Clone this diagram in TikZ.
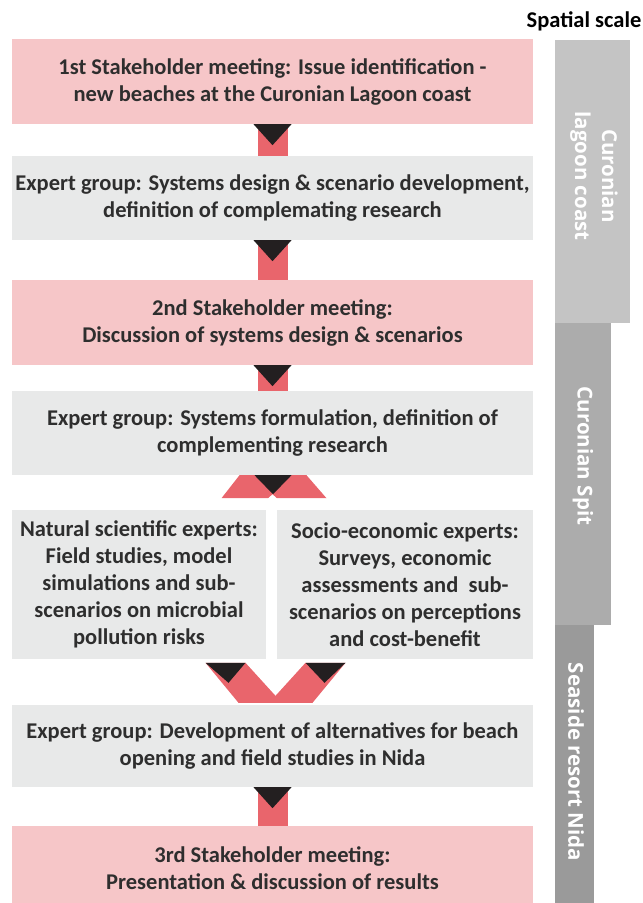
\documentclass[tikz,border=0pt]{standalone}
\usepackage{fontspec}
\setmainfont{Carlito}
\newfontfamily\barfont{Open Sans}
\usepackage{tikz}
\tikzset{>=latex}
\usetikzlibrary{calc}
\definecolor{meetpink}{HTML}{F6C6C8}
\definecolor{expertgrey}{HTML}{E8E9E9}
\definecolor{linkred}{HTML}{E9656C}
\definecolor{tipblack}{HTML}{231F20}
\definecolor{textgrey}{HTML}{2E2E2E}
\definecolor{barone}{HTML}{C4C4C4}
\definecolor{bartwo}{HTML}{ACACAC}
\definecolor{barthree}{HTML}{9A9A9A}
\tikzset{
  flowbox/.style={inner sep=0pt, align=center, text=textgrey,
    font=\bfseries\fontsize{22.5}{27}\selectfont},
  meetbox/.style={flowbox, fill=meetpink, minimum width=521, minimum height=85},
  expertbox/.style={flowbox, fill=expertgrey, minimum width=521, minimum height=84},
  halfbox/.style={flowbox, fill=expertgrey, minimum height=149},
  scalelabel/.style={rotate=-90, align=center, text=white,
    font=\barfont\bfseries\fontsize{20.5}{27}\selectfont}
}

\begin{document}
\begin{tikzpicture}[line cap=round,line join=round,x=1pt,y=-1pt]
		\useasboundingbox (0,0) rectangle (643,903);
		% spatial scale bars
		\fill [barone] (555,40) rectangle (630,323);
		\fill [bartwo] (555,323) rectangle (611,625);
		\fill [barthree] (555,625) rectangle (594,903);
		\node [font=\bfseries\fontsize{22.5}{26}\selectfont, text=black] (scale) at (584,21) {Spatial scale};
		\node [scalelabel] (coast) at (594,176) {Curonian\\lagoon coast};
		\node [scalelabel] (spit) at (583,456) {Curonian Spit};
		\node [scalelabel] (nida) at (576,762) {Seaside resort Nida};
		% process steps
		\node [meetbox] (b1) at (272.5,81.5) {1st Stakeholder meeting: Issue identification -\\new beaches at the Curonian Lagoon coast};
		\node [expertbox] (b2) at (272.5,198) {Expert group: Systems design \& scenario development,\\definition of complemating research};
		\node [meetbox] (b3) at (272.5,322.5) {2nd Stakeholder meeting:\\Discussion of systems design \& scenarios};
		\node [expertbox] (b4) at (272.5,433) {Expert group: Systems formulation, definition of\\complementing research};
		\node [halfbox, minimum width=254] (b5l) at (139,584.5) {Natural scientific experts:\\Field studies, model\\simulations and sub-\\scenarios on microbial\\pollution risks};
		\node [halfbox, minimum width=256] (b5r) at (405,584.5) {Socio-economic experts:\\Surveys, economic\\assessments and~ sub-\\scenarios on perceptions\\and cost-benefit};
		\node [expertbox, minimum height=82] (b6) at (272.5,746) {Expert group: Development of alternatives for beach\\opening and field studies in Nida};
		\node [meetbox] (b7) at (272.5,868.5) {3rd Stakeholder meeting:\\Presentation \& discussion of results};
		% straight links
		\foreach \a/\b in {b1/b2,b2/b3,b3/b4,b6/b7}{
			\fill [linkred] ($(\a.south)+(-15,0)$) rectangle ($(\b.north)+(15,0)$);
			\fill [tipblack] ($(\a.south)+(-19,0)$) -- ($(\a.south)+(19,0)$) -- ($(\a.south)+(0,21)$) -- cycle;
		}
		% split link
		\coordinate (fork) at (b4.south);
		\fill [linkred] ($(fork)+(-33,0)$) -- ($(fork)+(34,0)$) -- ($(fork)+(54,23)$) -- ($(fork)+(4.5,23)$)
			-- ($(fork)+(0,19)$) -- ($(fork)+(-4.5,23)$) -- ($(fork)+(-51,23)$) -- cycle;
		\fill [tipblack] ($(fork)+(-18,0)$) -- ($(fork)+(19,0)$) -- ($(fork)+(0.5,19)$) -- cycle;
		% merge link
		\coordinate (join) at ($(b6.north)+(3,0)$);
		\fill [linkred] ($(join)+(-70,-42)$) -- ($(join)+(-30,-42)$) -- ($(join)+(0,-9)$) -- ($(join)+(30,-42)$)
			-- ($(join)+(70,-42)$) -- ($(join)+(37,-2)$) -- ($(join)+(-37,-2)$) -- cycle;
		\fill [tipblack] ($(join)+(-70,-42)$) -- ($(join)+(-30,-42)$) -- ($(join)+(-47,-22)$) -- cycle;
		\fill [tipblack] ($(join)+(30,-42)$) -- ($(join)+(70,-42)$) -- ($(join)+(49,-22)$) -- cycle;
		\end{tikzpicture}
\end{document}
